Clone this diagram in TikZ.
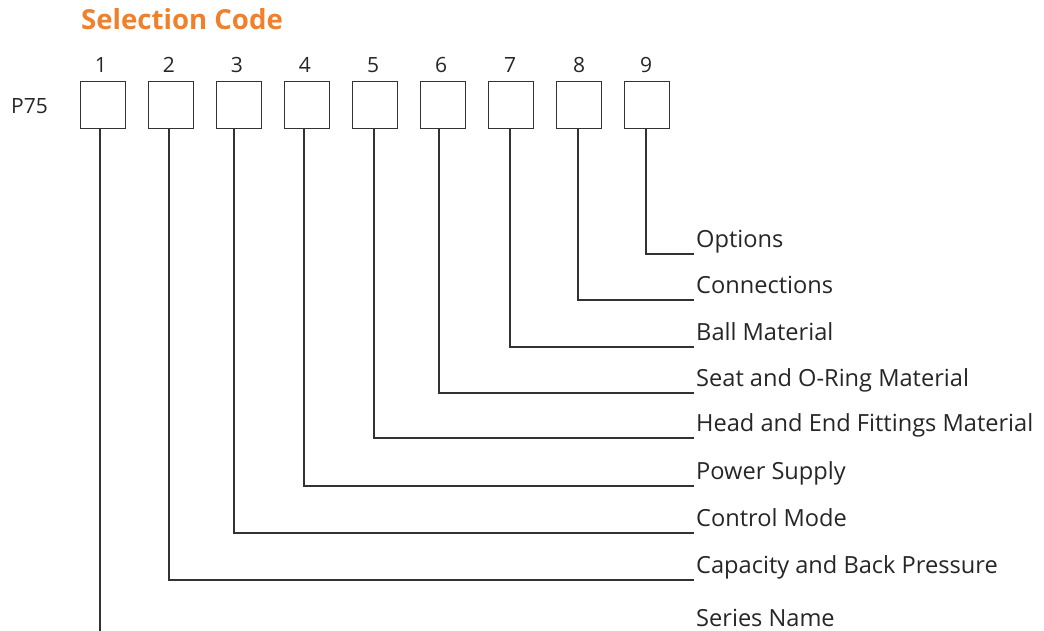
\documentclass[tikz,border=0pt]{standalone}
\usepackage{fontspec}
\setmainfont{Open Sans}
\definecolor{titleorange}{RGB}{240,128,44}
\definecolor{linegray}{RGB}{50,50,50}
\begin{document}
\begin{tikzpicture}[x=1pt,y=-1pt,
  codebox/.style={draw=linegray,line width=1.2pt,minimum width=45pt,minimum height=47pt,inner sep=0pt,anchor=north west},
  digit/.style={font=\fontsize{21}{24}\selectfont,text=black!85,anchor=base},
  lbl/.style={font=\fontsize{23.6}{27}\selectfont,text=black!85,anchor=base west,inner sep=0pt},
  conn/.style={draw=linegray,line width=1.2pt}]
\useasboundingbox (0,0) rectangle (1044,630);
\node[font=\fontsize{27.6}{31}\selectfont\bfseries,text=titleorange,anchor=base west,inner sep=0pt] (title) at (81,29) {Selection Code};
\node[font=\fontsize{21}{24}\selectfont,text=black!85,anchor=base west,inner sep=0pt] (p75) at (11,113) {P75};
\foreach \i/\bx/\lx/\dx in {1/80/100/101,2/148/169/169,3/216/234/237,4/284/304/305,5/352/374/373,6/420/439/441,7/488/510/510,8/556/578/579,9/624/646/646}{
  \node[codebox] (b\i) at (\bx,81) {};
  \node[digit] (d\i) at (\dx,72) {\i};
  \coordinate (s\i) at (\lx,128);
}
\foreach \i/\y/\t in {9/254/Options,8/300/Connections,7/347/Ball Material,6/393/Seat and O-Ring Material,5/438/Head and End Fittings Material,4/486/Power Supply,3/533/Control Mode,2/580/Capacity and Back Pressure}{
  \coordinate (e\i) at (694,\y);
  \node[lbl] (l\i) at (696,\y-7) {\t};
  \draw[conn] (s\i) |- (e\i);
}
\node[lbl] (l1) at (696,626) {Series Name};
\coordinate (e1) at (100,631);
\draw[conn] (s1) -- (e1);
\end{tikzpicture}
\end{document}
